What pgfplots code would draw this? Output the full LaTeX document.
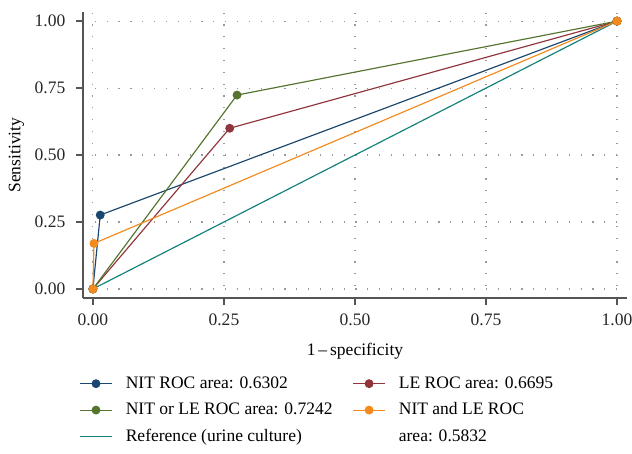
\documentclass[border=0pt]{standalone}
\usepackage{fontspec}
\setmainfont{Liberation Serif}
\usepackage{pgfplots}
\pgfplotsset{compat=1.18}

\definecolor{cnit}{HTML}{1A476F}
\definecolor{cle}{HTML}{90353B}
\definecolor{cor}{HTML}{55752F}
\definecolor{cand}{HTML}{F28A1E}
\definecolor{cref}{HTML}{12807A}
\definecolor{spine}{HTML}{555555}

\begin{document}
\begin{tikzpicture}
\begin{axis}[
  scale only axis, width=326pt, height=171.4pt,
  xmin=-0.019, xmax=1.019, ymin=-0.034, ymax=1.034,
  axis x line*=bottom, axis y line*=left,
  axis line style={spine, line width=0.9pt, -},
  xtick={0,0.25,0.5,0.75,1}, ytick={0,0.25,0.5,0.75,1},
  tick style={spine, line width=0.9pt},
  tick align=outside, major tick length=4pt,
  xticklabel style={/pgf/number format/fixed, /pgf/number format/fixed zerofill, /pgf/number format/precision=2, yshift=-2pt},
  yticklabel style={/pgf/number format/fixed, /pgf/number format/fixed zerofill, /pgf/number format/precision=2, xshift=-3pt},
  /pgf/number format/assume math mode=true,
  ticklabel style={font=\fontsize{10.5}{12}\selectfont, text=black!85},
  grid=major,
  major grid style={gray!80, line width=0.7pt, dash pattern=on 0.7pt off 6.4pt},
  xlabel={1\,–\,specificity}, ylabel={Sensitivity},
  label style={font=\fontsize{10.5}{12}\selectfont},
  xlabel style={yshift=-3.5pt}, ylabel style={yshift=-0.5pt},
  every axis plot/.append style={line width=0.7pt},
  legend columns=2,
  legend cell align=left,
  legend style={at={(-0.016,-0.25)}, anchor=north west, draw=none, fill=none,
    /tikz/every odd column/.append style={column sep=6pt},
    /tikz/every even column/.append style={column sep=10pt},
    row sep=3.2pt, font=\fontsize{10.5}{12}\selectfont},
  legend image code/.code={\draw[#1] (0pt,0pt) -- (19pt,0pt) plot coordinates {(9.5pt,0pt)};},
]
\addplot[cnit, mark=*, mark size=2.3pt] coordinates {(0,0) (0.014,0.276) (1,1)};
\addlegendentry{NIT ROC area: 0.6302}
\addplot[cle, mark=*, mark size=2.3pt] coordinates {(0,0) (0.261,0.600) (1,1)};
\addlegendentry{LE ROC area: 0.6695}
\addplot[cor, mark=*, mark size=2.3pt] coordinates {(0,0) (0.275,0.724) (1,1)};
\addlegendentry{NIT or LE ROC area: 0.7242}
\addplot[cref, mark=none, forget plot] coordinates {(0,0) (1,1)};
\addplot[cand, mark=*, mark size=2.3pt] coordinates {(0,0) (0.002,0.170) (1,1)};
\addlegendentry{NIT and LE ROC}
\addlegendimage{cref, mark=none}
\addlegendentry{Reference (urine culture)}
\addlegendimage{empty legend}
\addlegendentry{area: 0.5832}
\end{axis}
\pgfresetboundingbox
\path ([xshift=-49.7pt, yshift=-92.9pt]current axis.south west)
  rectangle ([xshift=329pt, yshift=7.2pt]current axis.south west |- current axis.north east);
\end{tikzpicture}
\end{document}
